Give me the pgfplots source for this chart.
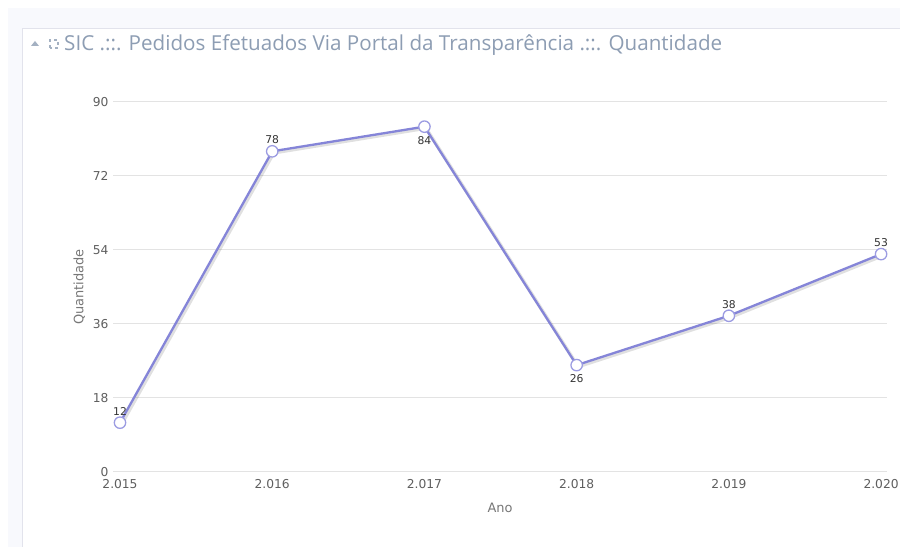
\documentclass[border=0pt]{standalone}
\usepackage{pgfplots}
\pgfplotsset{compat=1.18}
\usepackage{fontspec}
\setmainfont{DejaVu Sans}
\newfontfamily\titlefont{Open Sans}
\definecolor{bgl}{HTML}{F8F9FD}
\definecolor{brd}{HTML}{E2E3EC}
\definecolor{ttl}{HTML}{8D9DB3}
\definecolor{tick}{HTML}{5F5F5F}
\definecolor{grd}{HTML}{E3E3E3}
\definecolor{ln}{HTML}{8585D8}
\definecolor{mk}{HTML}{9C9CE2}
\begin{document}
\begin{tikzpicture}[x=1bp,y=1bp]
\path[use as bounding box] (0,0) rectangle (900,547);
\fill[white] (0,0) rectangle (900,547);
\fill[bgl] (8,0) rectangle (900,539);
\fill[white] (22,0) rectangle (900,518);
\draw[brd, line width=1bp] (22,0) -- (22,518) -- (900,518);
\fill[ttl!80] (31,501) -- (39,501) -- (35,506) -- cycle;
\draw[ttl!80, line width=1.3bp, dash pattern=on 3bp off 3bp] (50,499) rectangle (58,507);
\node[anchor=base west, inner sep=0pt, text=ttl, font=\titlefont\fontsize{20.7}{24}\selectfont] at (64,496) {SIC .::. Pedidos Efetuados Via Portal da Transparência .::. Quantidade};
\begin{axis}[
  at={(113bp,75bp)}, anchor=south west,
  scale only axis, width=774bp, height=370bp,
  xmin=-0.046, xmax=5.039, ymin=0, ymax=90,
  ytick={0,18,36,54,72,90},
  xtick={0,1,2,3,4,5},
  xticklabels={2.015,2.016,2.017,2.018,2.019,2.020},
  /pgf/number format/assume math mode=true,
  axis line style={draw=none}, tick style={draw=none},
  ymajorgrids, grid style={grd, line width=1bp},
  ticklabel style={text=tick, font=\fontsize{12.3}{14}\selectfont},
  yticklabel style={xshift=-1bp},
  xticklabel style={yshift=-4bp},
  xlabel={Ano}, ylabel={Quantidade},
  label style={text=tick!85, font=\fontsize{13}{15}\selectfont},
  xlabel style={yshift=-7bp},
  ylabel style={yshift=1bp},
  clip=false,
]
\addplot[black, opacity=0.12, line width=3.5bp, xshift=1.5bp, yshift=-1.5bp] coordinates {(0,12) (1,78) (2,84) (3,26) (4,38) (5,53)};
\addplot[ln, line width=2.3bp, mark=*, mark size=5.7bp, mark options={fill=white, draw=mk, line width=1.3bp}] coordinates {(0,12) (1,78) (2,84) (3,26) (4,38) (5,53)};
\addplot[draw=none, nodes near coords, point meta=explicit symbolic,
  every node near coord/.style={anchor=south, yshift=4bp, text=black!80, font=\fontsize{10.8}{12}\selectfont}]
  coordinates {(0,12) [12] (1,78) [78] (4,38) [38] (5,53) [53]};
\addplot[draw=none, nodes near coords, point meta=explicit symbolic,
  every node near coord/.style={anchor=north, yshift=-6bp, text=black!80, font=\fontsize{10.8}{12}\selectfont}]
  coordinates {(2,84) [84] (3,26) [26]};
\end{axis}
\end{tikzpicture}
\end{document}
